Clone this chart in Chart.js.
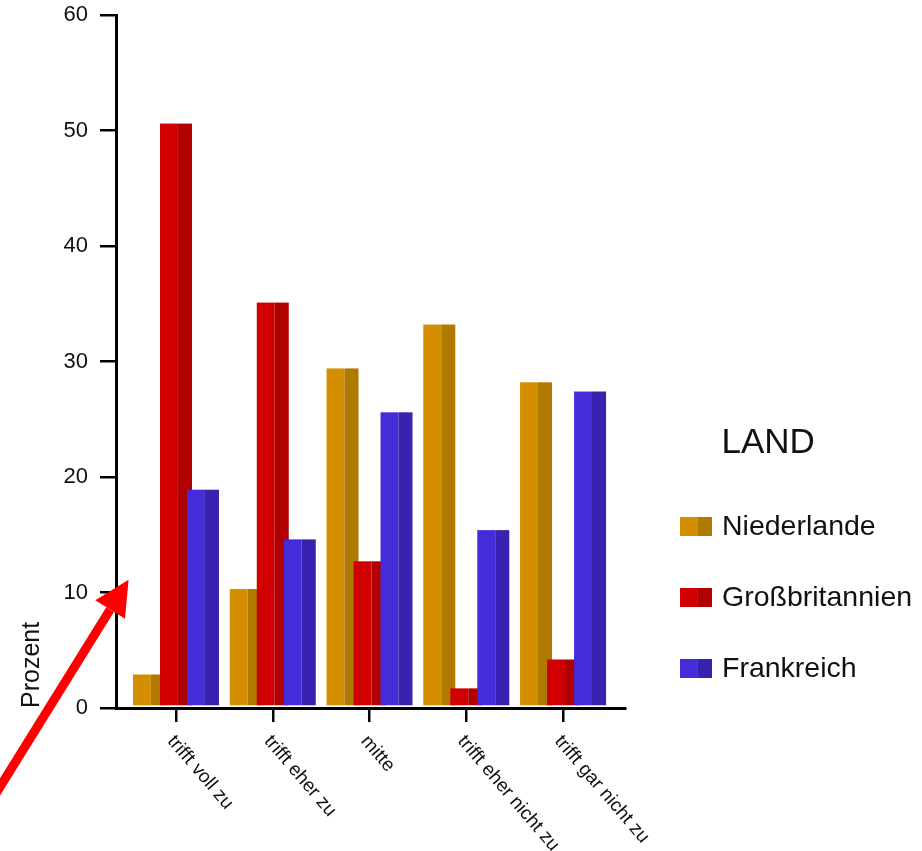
<!DOCTYPE html>
<html lang="de">
<head>
<meta charset="utf-8">
<title>LAND – Prozent</title>
<script src="https://cdn.jsdelivr.net/npm/chart.js@4.4.1/dist/chart.umd.min.js"></script>
<style>
  html, body { margin: 0; padding: 0; background: #ffffff; }
  #chart-wrap { position: relative; width: 922px; height: 851px; }
</style>
</head>
<body>
<div id="chart-wrap">
  <canvas id="land-chart"></canvas>
</div>
<script>
// answer categories (x axis)
const categories = ['trifft voll zu', 'trifft eher zu', 'mitte', 'trifft eher nicht zu', 'trifft gar nicht zu'];

// percent per country
const niederlande = [2.9, 10.3, 29.4, 33.2, 28.2];
const grossbritannien = [50.6, 35.1, 12.7, 1.7, 4.2];
const frankreich = [18.9, 14.6, 25.6, 15.4, 27.4];

const countryNames = ['Niederlande', 'Großbritannien', 'Frankreich'];
const yTicks = [0, 10, 20, 30, 40, 50, 60];

// light face + darker right side of every bar
const lightColors = ['#d48e00', '#d00000', '#442cd8'];
const darkColors = ['#b07a00', '#b00000', '#3822b0'];
const SPLIT = 0.56;

const FONT = "'Liberation Sans', Arial, sans-serif";

// red arrow annotation, in data units (tip near the 10 tick)
const arrowTip = { x: -0.49, y: 11.1 };
const arrowTail = { x: -1.95, y: -8.6 };

const seriesValues = [niederlande, grossbritannien, frankreich];

// bars are painted here so later series overlap earlier ones (as in the picture)
const twoToneBars = {
  id: 'twoToneBars',
  afterDatasetsDraw(chart) {
    const ctx = chart.ctx;
    ctx.save();
    chart.data.datasets.forEach((ds, di) => {
      const meta = chart.getDatasetMeta(di);
      meta.data.forEach(bar => {
        const { x, y, base, width } = bar.getProps(['x', 'y', 'base', 'width'], true);
        const left = x - width / 2;
        const splitX = left + width * SPLIT;
        const bottom = base - 1.5;
        ctx.fillStyle = lightColors[di];
        ctx.fillRect(left, y, splitX - left, bottom - y);
        ctx.fillStyle = darkColors[di];
        ctx.fillRect(splitX, y, left + width - splitX, bottom - y);
      });
    });
    ctx.restore();
  }
};

// rotated category labels running down to the right
const slantedLabels = {
  id: 'slantedLabels',
  afterDraw(chart) {
    const ctx = chart.ctx;
    const xScale = chart.scales.x;
    const top = chart.chartArea.bottom + 24;
    ctx.save();
    ctx.font = '19px ' + FONT;
    ctx.fillStyle = '#111111';
    ctx.textAlign = 'left';
    ctx.textBaseline = 'top';
    categories.forEach((label, i) => {
      const px = xScale.getPixelForValue(i);
      ctx.save();
      ctx.translate(px + 2, top);
      ctx.rotate(49.4 * Math.PI / 180);
      ctx.fillText(label, 0, 0);
      ctx.restore();
    });
    ctx.restore();
  }
};

// legend block on the right: title + swatches
const sideLegend = {
  id: 'sideLegend',
  afterDraw(chart) {
    const ctx = chart.ctx;
    const area = chart.chartArea;
    const x0 = area.right + 55;
    ctx.save();
    ctx.fillStyle = '#111111';
    ctx.textAlign = 'left';
    ctx.textBaseline = 'alphabetic';
    ctx.font = '35px ' + FONT;
    ctx.fillText('LAND', x0 + 41.5, 453);

    ctx.font = '28.5px ' + FONT;
    countryNames.forEach((name, i) => {
      const top = 517 + i * 71;
      const w = 32;
      ctx.fillStyle = lightColors[i];
      ctx.fillRect(x0, top, w * SPLIT, 19);
      ctx.fillStyle = darkColors[i];
      ctx.fillRect(x0 + w * SPLIT, top, w * (1 - SPLIT), 19);
      ctx.fillStyle = '#111111';
      ctx.fillText(name, x0 + 42, top + 18);
    });
    ctx.restore();
  }
};

// the red arrow pointing at the y axis
const redArrow = {
  id: 'redArrow',
  afterDraw(chart) {
    const ctx = chart.ctx;
    const { x: xs, y: ys } = chart.scales;
    const tx = xs.getPixelForValue(arrowTip.x), ty = ys.getPixelForValue(arrowTip.y);
    const sx = xs.getPixelForValue(arrowTail.x), sy = ys.getPixelForValue(arrowTail.y);
    const ang = Math.atan2(ty - sy, tx - sx);
    const headLen = 35, headHalf = 17.5;
    const bx = tx - headLen * Math.cos(ang), by = ty - headLen * Math.sin(ang);
    ctx.save();
    ctx.strokeStyle = '#ff0000';
    ctx.fillStyle = '#ff0000';
    ctx.lineWidth = 9;
    ctx.beginPath();
    ctx.moveTo(sx, sy);
    ctx.lineTo(bx, by);
    ctx.stroke();
    ctx.beginPath();
    ctx.moveTo(tx, ty);
    ctx.lineTo(bx + headHalf * Math.sin(ang), by - headHalf * Math.cos(ang));
    ctx.lineTo(bx - headHalf * Math.sin(ang), by + headHalf * Math.cos(ang));
    ctx.closePath();
    ctx.fill();
    ctx.restore();
  }
};

const datasets = seriesValues.map((values, di) => ({
  label: countryNames[di],
  data: values.map((v, i) => ({ x: i, y: v })),
  backgroundColor: 'rgba(0,0,0,0)',
  borderWidth: 0
}));

new Chart(document.getElementById('land-chart'), {
  type: 'bar',
  data: { datasets },
  options: {
    responsive: true,
    maintainAspectRatio: false,
    animation: false,
    categoryPercentage: 0.837,
    barPercentage: 1.185,
    layout: { padding: { top: 15, right: 297, bottom: 0, left: 0 } },
    plugins: {
      legend: { display: false },
      tooltip: { enabled: false }
    },
    scales: {
      x: {
        type: 'linear',
        offset: false,
        min: -0.62,
        max: 4.64,
        afterBuildTicks: scale => { scale.ticks = categories.map((c, i) => ({ value: i })); },
        afterFit: scale => { scale.height = 143; },
        ticks: { display: false },
        grid: { offset: false, drawOnChartArea: false, drawTicks: true, tickLength: 14, color: '#000000', lineWidth: 2.5 },
        border: { display: true, color: '#000000', width: 3 }
      },
      y: {
        min: 0,
        max: 60,
        afterBuildTicks: scale => { scale.ticks = yTicks.map(v => ({ value: v })); },
        afterFit: scale => {
          scale.width = 116;
          scale.paddingTop = 0;
          scale.paddingBottom = 0;
        },
        ticks: { color: '#111111', padding: 12, font: { family: FONT, size: 22 } },
        grid: { drawOnChartArea: false, drawTicks: true, tickLength: 16, color: '#000000', lineWidth: 2.5 },
        border: { display: true, color: '#000000', width: 3 },
        title: {
          display: true,
          text: 'Prozent',
          align: 'start',
          color: '#111111',
          padding: { top: 17.5, bottom: 0 },
          font: { family: FONT, size: 25 }
        }
      }
    }
  },
  plugins: [twoToneBars, slantedLabels, sideLegend, redArrow]
});
</script>
</body>
</html>
